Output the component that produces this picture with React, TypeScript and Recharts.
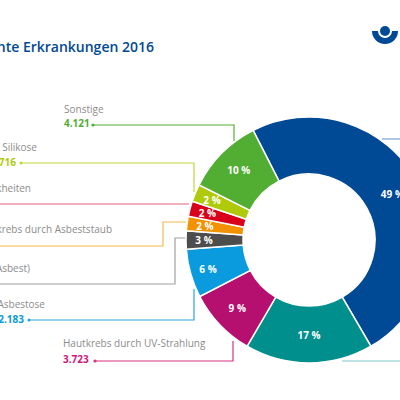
import React from 'react';
import { PieChart, Pie, Cell } from 'recharts';

const names = ['Lärm', 'Atemwege', 'Hautkrebs durch UV-Strahlung', 'Asbestose', 'Mesotheliom (Asbest)', 'Lungenkrebs durch Asbeststaub', 'Infektionskrankheiten', 'Silikose', 'Sonstige'];
// slice sizes as measured on the ring, the printed labels are rounded
const shares = [49.1, 16.8, 9, 6.4, 2.4, 1.9, 2, 2.3, 10.1];
const pctLabels = ['49 %', '17 %', '9 %', '6 %', '3 %', '2 %', '2 %', '2 %', '10 %'];
const colors = ['#004994', '#008f8c', '#b5106f', '#0a9ade', '#4d4d4d', '#f39200', '#d9001b', '#afca0b', '#52ae32'];
const data = names.map((name, i) => ({ name, value: shares[i], label: pctLabels[i] }));

const FONT = '"Open Sans", sans-serif';
const GREY = '#8c8c8c';

const renderPct = (p: any) => {
  // small slices carry their label nearer the outer edge
  const r = p.value < 7 ? 105 : p.value < 15 ? 99 : 95;
  const a = (-p.midAngle * Math.PI) / 180;
  return (
    <text
      x={p.cx + r * Math.cos(a)}
      y={p.cy + r * Math.sin(a)}
      fill="#fff"
      fontSize={10}
      fontWeight={700}
      fontFamily={FONT}
      textAnchor="middle"
      dominantBaseline="central"
    >
      {p.payload.label}
    </text>
  );
};

// caption texts and leader lines around the ring
const leaders = [
  { color: '#52ae32', points: '93,125 234,125 234,141', dot: [93, 125] },
  { color: '#c3d63c', points: '21,163 194,163 194,192', dot: [21, 163] },
  { color: '#e8607f', points: '0,204 189,204' },
  { color: '#f5b84e', points: '0,246 163,246 163,222 186,222' },
  { color: '#a0a0a0', points: '0,284 175,284 175,238 186,238' },
  { color: '#2ba5e0', points: '29,320 194,320 194,289', dot: [29, 320] },
  { color: '#d9337f', points: '95,361 233,361 233,341', dot: [95, 361] },
  { color: '#7ba3cf', points: '382,139 400,139' },
  { color: '#7cc8d0', points: '342,361 400,361' },
];

const captions = [
  { text: 'Sonstige', x: 64, y: 113, anchor: 'start' },
  { text: 'Silikose', x: 37, y: 151, anchor: 'end' },
  { text: 'Infektionskrankheiten', x: 31, y: 192, anchor: 'end' },
  { text: 'Lungenkrebs durch Asbeststaub', x: 112, y: 233, anchor: 'end' },
  { text: 'Mesotheliom (Asbest)', x: 30, y: 272, anchor: 'end' },
  { text: 'Asbestose', x: 45, y: 308, anchor: 'end' },
  { text: 'Hautkrebs durch UV-Strahlung', x: 63, y: 347, anchor: 'start' },
];

const counts = [
  { text: '4.121', x: 64, y: 127, color: '#52ae32', anchor: 'start' },
  { text: '1.716', x: 16, y: 166, color: '#afca0b', anchor: 'end' },
  { text: '2.183', x: 24, y: 323, color: '#0a9ade', anchor: 'end' },
  { text: '3.723', x: 63, y: 363, color: '#c9177e', anchor: 'start' },
];

export default function App() {
  return (
    <div style={{ position: 'fixed', left: 0, top: 0, width: 400, height: 400, background: '#fff' }}>
      <svg width={400} height={400} style={{ position: 'absolute', left: 0, top: 0 }}>
        <text x={154} y={52} textAnchor="end" fontFamily={FONT} fontSize={14} fontWeight={600} fill="#004994">
          Anerkannte Erkrankungen 2016
        </text>
        {leaders.map((l) => (
          <g key={l.points}>
            <polyline points={l.points} fill="none" stroke={l.color} strokeWidth={1.2} />
            {l.dot && <circle cx={l.dot[0]} cy={l.dot[1]} r={1.6} fill={l.color} />}
          </g>
        ))}
        {captions.map((c) => (
          <text key={c.text} x={c.x} y={c.y} textAnchor={c.anchor as any} fontFamily={FONT} fontSize={10} fill={GREY}>
            {c.text}
          </text>
        ))}
        {counts.map((c) => (
          <text key={c.text} x={c.x} y={c.y} textAnchor={c.anchor as any} fontFamily={FONT} fontSize={10} fontWeight={700} fill={c.color}>
            {c.text}
          </text>
        ))}
        {/* logo */}
        <circle cx={385} cy={31} r={5} fill="#004994" />
        <path d="M372 31 A13 13 0 0 0 398 31 L392 31 A7 7 0 0 1 378 31 Z" fill="#004994" />
      </svg>
      <div style={{ position: 'absolute', left: 0, top: 0 }}>
        <PieChart width={400} height={400} margin={{ top: 0, right: 0, bottom: 0, left: 0 }}>
          <Pie
            data={data}
            dataKey="value"
            cx={309}
            cy={240}
            innerRadius={66}
            outerRadius={123}
            startAngle={117}
            endAngle={-243}
            stroke="#fff"
            strokeWidth={1.5}
            label={renderPct}
            labelLine={false}
            isAnimationActive={false}
          >
            {data.map((d, i) => (
              <Cell key={d.name} fill={colors[i]} />
            ))}
          </Pie>
        </PieChart>
      </div>
    </div>
  );
}
